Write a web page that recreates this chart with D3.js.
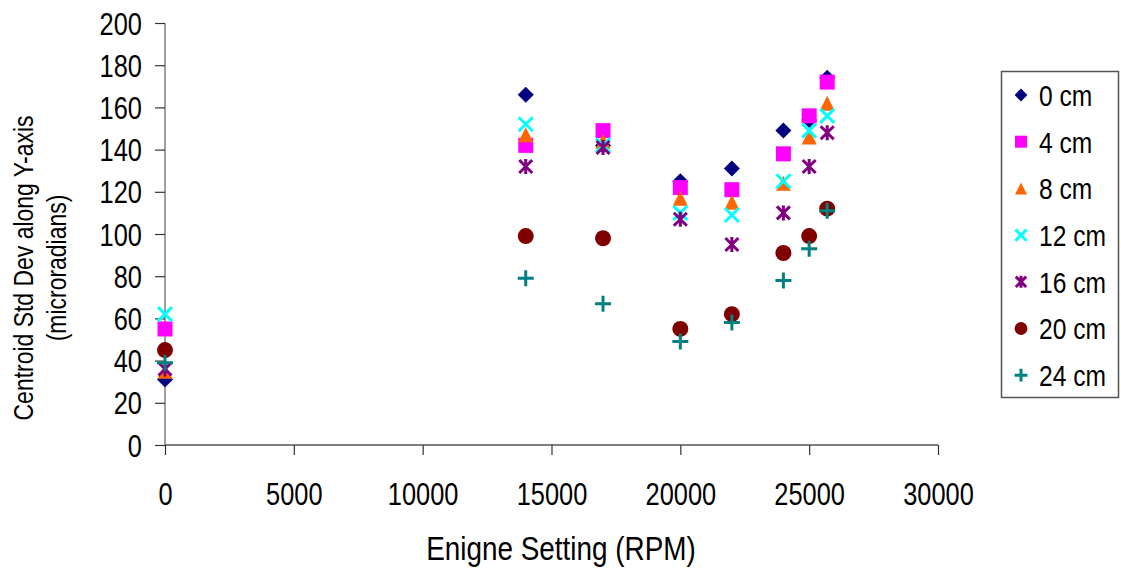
<!DOCTYPE html>
<html>
<head>
<meta charset="utf-8">
<script src="https://cdn.jsdelivr.net/npm/d3@7"></script>
<style>
  html, body { margin: 0; padding: 0; background: #fff; }
  svg text { font-family: "Liberation Sans", Arial, sans-serif; fill: #000; }
</style>
</head>
<body>
<svg id="chart" width="1121" height="569"></svg>
<script>
// Engine speed settings (RPM)
const rpm = [0, 14000, 17000, 20000, 22000, 24000, 25000, 25700];

// Centroid standard deviation along Y (microradians), one array per distance
const cm0  = [31, 166, 142, 125, 131, 149, 154, 174];
const cm4  = [55, 142, 149, 122, 121, 138, 156, 172];
const cm8  = [35, 147, 144, 117, 115, 124, 146, 162];
const cm12 = [62, 152, 142, 110, 109, 125, 149, 156];
const cm16 = [36, 132, 141, 107, 95, 110, 132, 148];
const cm20 = [45, 99, 98, 55, 62, 91, 99, 112];
const cm24 = [39, 79, 67, 49, 58, 78, 93, 111];

const seriesNames = ["0 cm", "4 cm", "8 cm", "12 cm", "16 cm", "20 cm", "24 cm"];
const seriesValues = [cm0, cm4, cm8, cm12, cm16, cm20, cm24];

const xTicks = [0, 5000, 10000, 15000, 20000, 25000, 30000];
const yTicks = [0, 20, 40, 60, 80, 100, 120, 140, 160, 180, 200];

// Horizontal squeeze giving a narrow sans face
const NARROW = 0.82;

// Marker shapes as custom d3 symbol types (size = half-width in px)
const shapes = {
  diamond: { draw(c, r) { c.moveTo(0, -r); c.lineTo(r, 0); c.lineTo(0, r); c.lineTo(-r, 0); c.closePath(); } },
  square: { draw(c, r) { c.rect(-r, -r, 2 * r, 2 * r); } },
  triangle: { draw(c, r) { c.moveTo(0, -r); c.lineTo(r, r); c.lineTo(-r, r); c.closePath(); } },
  cross: { draw(c, r) { c.moveTo(-r, -r); c.lineTo(r, r); c.moveTo(r, -r); c.lineTo(-r, r); } },
  star: { draw(c, r) { c.moveTo(-r, -r); c.lineTo(r, r); c.moveTo(r, -r); c.lineTo(-r, r); c.moveTo(0, -r * 1.15); c.lineTo(0, r * 1.15); } },
  circle: { draw(c, r) { c.moveTo(r, 0); c.arc(0, 0, r, 0, 2 * Math.PI); } },
  plus: { draw(c, r) { c.moveTo(-r, 0); c.lineTo(r, 0); c.moveTo(0, -r); c.lineTo(0, r); } }
};

const styles = [
  { shape: "diamond", color: "#000080", r: 8, filled: true },
  { shape: "square", color: "#FF00FF", r: 7.5, filled: true },
  { shape: "triangle", color: "#FF6600", r: 7.5, filled: true },
  { shape: "cross", color: "#00FFFF", r: 7, filled: false },
  { shape: "star", color: "#800080", r: 6.5, filled: false },
  { shape: "circle", color: "#800000", r: 8, filled: true },
  { shape: "plus", color: "#008080", r: 8, filled: false }
];

const svg = d3.select("#chart");

const x = d3.scaleLinear().domain([0, 30000]).range([165, 938]);
const y = d3.scaleLinear().domain([0, 200]).range([445, 23]);

// Place a text element at (px, py) with the narrow squeeze applied
function narrowAt(sel, px, py) {
  sel.attr("x", 0).attr("y", 0).attr("transform", `translate(${px},${py}) scale(${NARROW},1)`);
}

// Y axis
const yAxis = d3.axisLeft(y).tickValues(yTicks).tickSize(10).tickFormat(d3.format("d"));
const gy = svg.append("g").attr("transform", `translate(${x(0)},0)`).call(yAxis);
gy.select(".domain").attr("stroke", "#7f7f7f").attr("stroke-width", 1.5).attr("d", `M0,${y(200)}V${y(0)}`);
gy.selectAll(".tick line").attr("stroke", "#333").attr("stroke-width", 1.2);
gy.selectAll(".tick text").attr("font-size", 31).attr("dy", "0.36em").call(narrowAt, -23, 0);

// X axis
const xAxis = d3.axisBottom(x).tickValues(xTicks).tickSize(10).tickFormat(d3.format("d"));
const gx = svg.append("g").attr("transform", `translate(0,${y(0)})`).call(xAxis);
gx.select(".domain").attr("stroke", "#555").attr("stroke-width", 1.5).attr("d", `M${x(0)},0H${x(30000)}`);
gx.selectAll(".tick line").attr("stroke", "#333").attr("stroke-width", 1.2);
gx.selectAll(".tick text").attr("font-size", 31).attr("dy", null).call(narrowAt, 0, 60);

// Axis titles
svg.append("text").attr("text-anchor", "middle").attr("font-size", 34)
  .call(narrowAt, 561, 560).text("Enigne Setting (RPM)");
const yTitle = svg.append("g").attr("transform", "translate(0,268) rotate(-90)");
yTitle.append("text").attr("text-anchor", "middle").attr("font-size", 28)
  .call(narrowAt, 0, 33).text("Centroid Std Dev along Y-axis");
yTitle.append("text").attr("text-anchor", "middle").attr("font-size", 28)
  .call(narrowAt, 0, 66).text("(microradians)");

function styleMark(sel, st) {
  if (st.filled) sel.attr("fill", st.color).attr("stroke", "none");
  else sel.attr("fill", "none").attr("stroke", st.color).attr("stroke-width", 3);
}

// Points, one layer per series in series order
seriesValues.forEach((vals, i) => {
  const st = styles[i];
  const sym = d3.symbol().type(shapes[st.shape]).size(st.r);
  const pts = rpm.map((r, j) => ({ r, v: vals[j] }));
  svg.append("g").selectAll("path").data(pts).join("path")
    .attr("transform", d => `translate(${x(d.r)},${y(d.v)})`)
    .attr("d", sym)
    .call(styleMark, st);
});

// Legend
const legend = svg.append("g");
legend.append("rect").attr("x", 1001.5).attr("y", 71.5).attr("width", 117).attr("height", 326)
  .attr("fill", "#fff").attr("stroke", "#555").attr("stroke-width", 1.5);
seriesNames.forEach((name, i) => {
  const st = styles[i];
  const cy = 95 + i * 46.7;
  const sym = d3.symbol().type(shapes[st.shape]).size(st.r * 0.8);
  legend.append("path").attr("transform", `translate(1021,${cy})`).attr("d", sym).call(styleMark, st);
  legend.append("text").attr("font-size", 30).attr("dy", "0.36em").call(narrowAt, 1039, cy).text(name);
});
</script>
</body>
</html>
